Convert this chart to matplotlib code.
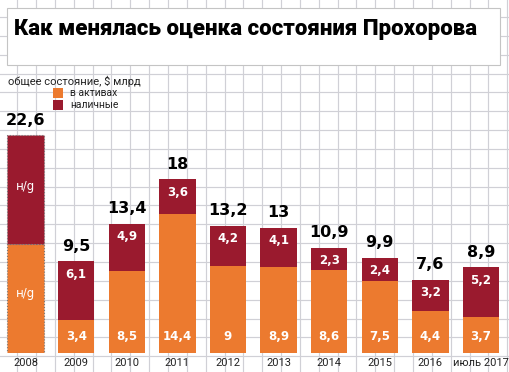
import matplotlib
matplotlib.use('Agg')
import matplotlib.pyplot as plt
from matplotlib.lines import Line2D
from matplotlib.patches import Rectangle

years = ['2008', '2009', '2010', '2011', '2012', '2013', '2014', '2015', '2016', 'июль 2017']
totals = [22.6, 9.5, 13.4, 18, 13.2, 13, 10.9, 9.9, 7.6, 8.9]
assets = [11.3, 3.4, 8.5, 14.4, 9, 8.9, 8.6, 7.5, 4.4, 3.7]
cash = [11.3, 6.1, 4.9, 3.6, 4.2, 4.1, 2.3, 2.4, 3.2, 5.2]
# 2008: split not disclosed
no_data = [True] + [False] * 9

ORANGE = '#EC7A2F'
RED = '#9A1A2E'
W, H = 509, 372


def fmt(v):
    s = ('%g' % v)
    return s.replace('.', ',')


def fx(px):
    return px / W


def fy(py):
    return 1 - py / H


fig = plt.figure(figsize=(W / 100, H / 100), dpi=100)
fig.patch.set_facecolor('white')

# squared paper background
step = 18.85
k = 0
while -1.7 + step * k < W:
    x = -1.7 + step * k
    fig.add_artist(Line2D([fx(x), fx(x)], [0, 1], transform=fig.transFigure,
                          color='#d0d0d6', lw=0.85, zorder=0.1))
    k += 1
k = 0
while -1.9 + step * k < H:
    y = -1.9 + step * k
    fig.add_artist(Line2D([0, 1], [fy(y), fy(y)], transform=fig.transFigure,
                          color='#d0d0d6', lw=0.85, zorder=0.1))
    k += 1

# title box
fig.add_artist(Rectangle((fx(7), fy(65)), fx(493), 57 / H, transform=fig.transFigure,
                         facecolor='white', edgecolor='#c4c4c4', lw=0.8, zorder=0.5))
fig.text(fx(14), fy(29), 'Как менялась оценка состояния Прохорова',
         fontsize=16, fontweight='heavy', family='Roboto', va='center', ha='left',
         color='black', zorder=2)

# legend
fig.text(fx(8), fy(81), 'общее состояние, $ млрд', fontsize=8, family='Roboto',
         va='center', ha='left', color='#222222', zorder=2)
fig.add_artist(Rectangle((fx(53), fy(98)), 10 / W, 10 / H, transform=fig.transFigure,
                         facecolor=ORANGE, edgecolor='none', zorder=2))
fig.add_artist(Rectangle((fx(53), fy(110)), 10 / W, 10 / H, transform=fig.transFigure,
                         facecolor=RED, edgecolor='none', zorder=2))
fig.text(fx(70), fy(93), 'в активах', fontsize=7.5, family='Roboto',
         va='center', ha='left', color='#222222', zorder=2)
fig.text(fx(70), fy(105), 'наличные', fontsize=7.5, family='Roboto',
         va='center', ha='left', color='#222222', zorder=2)

ax = fig.add_axes([fx(0.3), (H - 353) / H, 506 / W, 241 / H])
ax.set_zorder(1)
ax.set_facecolor('none')
ax.set_xlim(-0.5, 9.5)
ax.set_ylim(0, 25)
ax.axis('off')

x = list(range(len(years)))
for i in x:
    if no_data[i]:
        ax.bar(i, assets[i], width=0.72, color=ORANGE, edgecolor='#777777',
               linestyle=':', lw=0.8)
        ax.bar(i, cash[i], bottom=assets[i], width=0.72, color=RED,
               edgecolor='#777777', linestyle=':', lw=0.8)
        ax.text(i, assets[i] / 2 + 0.5, 'н/g', color='white', ha='center', va='center',
                fontsize=8.5)
        ax.text(i, assets[i] + cash[i] / 2 + 0.3, 'н/g', color='white', ha='center',
                va='center', fontsize=8.5)
    else:
        ax.bar(i, assets[i], width=0.72, color=ORANGE, edgecolor='none')
        ax.bar(i, cash[i], bottom=assets[i], width=0.72, color=RED, edgecolor='none')
        ax.text(i, 1.76, fmt(assets[i]), color='white', ha='center', va='center',
                fontsize=8.5, fontweight='bold')
        ax.text(i, totals[i] - 1.35, fmt(cash[i]), color='white', ha='center',
                va='center', fontsize=8.5, fontweight='bold')
    ax.text(i, totals[i] + 1.55, fmt(totals[i]), color='black', ha='center',
            va='center', fontsize=11.5, fontweight='bold', clip_on=False)
    ax.text(i, -1.05, years[i], color='#222222', ha='center', va='center',
            fontsize=8, family='Roboto', clip_on=False)

fig.savefig('out.png', dpi=100)
